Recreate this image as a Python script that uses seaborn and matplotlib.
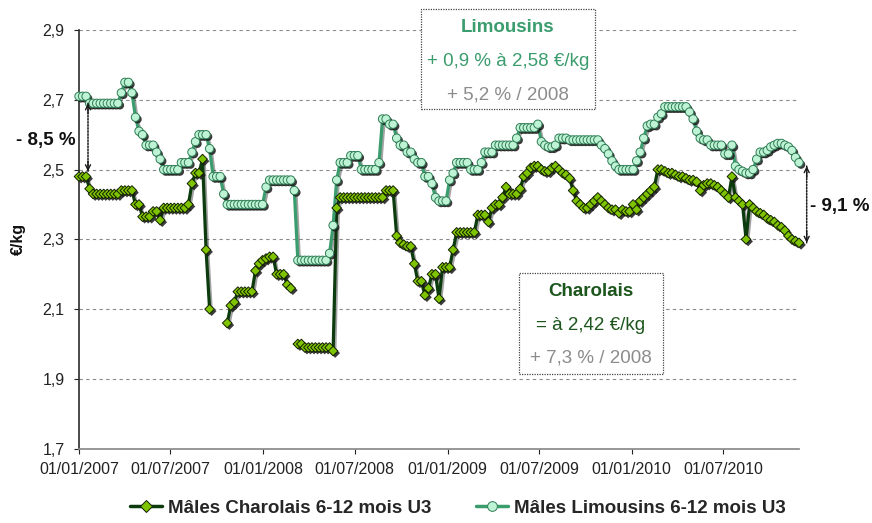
import numpy as np
import pandas as pd
import matplotlib
matplotlib.use('Agg')
import matplotlib.pyplot as plt
import matplotlib.patheffects as pe
from matplotlib.patches import Rectangle
from matplotlib.lines import Line2D
from matplotlib.ticker import FuncFormatter
import seaborn as sns

nan = np.nan

# cotations hebdomadaires (€/kg), à partir de la semaine du 01/01/2007
first_week = '2007-01-01'

charolais = [
    2.48, 2.48, 2.48, 2.445, 2.43, 2.43, 2.43, 2.43, 2.43, 2.43, 2.43, 2.43,
    2.44, 2.44, 2.44, 2.44, 2.40, 2.40, 2.365, 2.365, 2.365, 2.38, 2.38, 2.355,
    2.39, 2.39, 2.39, 2.39, 2.39, 2.39, 2.39, 2.40, 2.46, 2.49, 2.49, 2.53,
    2.27, 2.10, nan, nan, nan, nan, 2.06, 2.11, 2.12, 2.15, 2.15, 2.15,
    2.15, 2.15, 2.21, 2.23, 2.24, 2.245, 2.25, 2.25, 2.20, 2.20, 2.20, 2.17,
    2.16, nan, 2.00, 2.00, 1.99, 1.99, 1.99, 1.99, 1.99, 1.99, 1.99, 1.99,
    1.98, 2.39, 2.42, 2.42, 2.42, 2.42, 2.42, 2.42, 2.42, 2.42, 2.42, 2.42,
    2.42, 2.42, 2.42, 2.44, 2.44, 2.44, 2.31, 2.29, 2.285, 2.28, 2.28, 2.23,
    2.18, 2.18, 2.14, 2.16, 2.20, 2.20, 2.13, 2.22, 2.22, 2.22, 2.27, 2.32,
    2.32, 2.32, 2.32, 2.32, 2.32, 2.37, 2.37, 2.37, 2.35, 2.39, 2.40, 2.40,
    2.42, 2.45, 2.43, 2.43, 2.43, 2.445, 2.48, 2.49, 2.505, 2.51, 2.51, 2.50,
    2.495, 2.495, 2.505, 2.51, 2.50, 2.49, 2.485, 2.475, 2.44, 2.41, 2.40, 2.39,
    2.39, 2.40, 2.41, 2.42, 2.41, 2.40, 2.39, 2.385, 2.385, 2.375, 2.385, 2.38,
    2.38, 2.40, 2.385, 2.41, 2.42, 2.43, 2.44, 2.45, 2.50, 2.50, 2.495, 2.49,
    2.49, 2.485, 2.48, 2.48, 2.475, 2.47, 2.47, 2.465, 2.44, 2.455, 2.46, 2.46,
    2.455, 2.45, 2.44, 2.43, 2.42, 2.48, 2.42, 2.41, 2.40, 2.30, 2.40, 2.39,
    2.38, 2.375, 2.37, 2.36, 2.355, 2.35, 2.34, 2.335, 2.325, 2.31, 2.30, 2.295,
    2.29,
]

limousins = [
    2.71, 2.71, 2.71, 2.69, 2.69, 2.69, 2.69, 2.69, 2.69, 2.69, 2.69, 2.69,
    2.72, 2.75, 2.75, 2.72, 2.65, 2.61, 2.60, 2.57, 2.57, 2.57, 2.55, 2.53,
    2.50, 2.50, 2.50, 2.50, 2.50, 2.52, 2.52, 2.52, 2.55, 2.58, 2.60, 2.60,
    2.60, 2.56, 2.48, 2.48, 2.48, 2.43, 2.40, 2.40, 2.40, 2.40, 2.40, 2.40,
    2.40, 2.40, 2.40, 2.40, 2.40, 2.45, 2.47, 2.47, 2.47, 2.47, 2.47, 2.47,
    2.47, 2.44, 2.24, 2.24, 2.24, 2.24, 2.24, 2.24, 2.24, 2.24, 2.24, 2.26,
    2.34, 2.47, 2.52, 2.52, 2.52, 2.54, 2.54, 2.54, 2.50, 2.50, 2.50, 2.50,
    2.50, 2.52, 2.645, 2.645, 2.63, 2.63, 2.59, 2.57, 2.57, 2.55, 2.55, 2.53,
    2.52, 2.52, 2.48, 2.48, 2.46, 2.42, 2.41, 2.41, 2.41, 2.47, 2.49, 2.52,
    2.52, 2.52, 2.52, 2.50, 2.50, 2.50, 2.52, 2.55, 2.55, 2.55, 2.57, 2.57,
    2.57, 2.57, 2.57, 2.57, 2.59, 2.62, 2.62, 2.62, 2.62, 2.62, 2.63, 2.58,
    2.57, 2.565, 2.565, 2.57, 2.59, 2.59, 2.59, 2.585, 2.585, 2.585, 2.585, 2.585,
    2.585, 2.585, 2.585, 2.585, 2.57, 2.56, 2.545, 2.525, 2.51, 2.50, 2.50, 2.50,
    2.50, 2.50, 2.525, 2.55, 2.59, 2.625, 2.63, 2.63, 2.65, 2.66, 2.68, 2.68,
    2.68, 2.68, 2.68, 2.68, 2.68, 2.665, 2.645, 2.61, 2.59, 2.585, 2.585, 2.57,
    2.57, 2.57, 2.57, 2.545, 2.545, 2.57, 2.51, 2.50, 2.495, 2.49, 2.49, 2.50,
    2.53, 2.55, 2.55, 2.555, 2.565, 2.57, 2.575, 2.575, 2.57, 2.565, 2.555, 2.535,
    2.52,
]

series_labels = ['Mâles Charolais 6-12 mois U3', 'Mâles Limousins 6-12 mois U3']
x_ticks = ['2007-01-01', '2007-07-01', '2008-01-01', '2008-07-01',
           '2009-01-01', '2009-07-01', '2010-01-01', '2010-07-01']
y_ticks = [1.7, 1.9, 2.1, 2.3, 2.5, 2.7, 2.9]

# couleurs
c_char_line = '#0c3b0e'
c_char_mark = '#7fc400'
c_lim_line = '#3b9d6e'
c_lim_mark = '#bff3d5'
c_gris = '#8c8c8c'

sns.set_theme(style='white')
plt.rcParams['font.family'] = ['Liberation Sans', 'DejaVu Sans']

semaines = pd.date_range(first_week, periods=len(charolais), freq='7D')
df = pd.DataFrame({'date': semaines, 'charolais': charolais, 'limousins': limousins})
df['seg'] = df['charolais'].isna().cumsum()  # trous dans la série charolais

W, H = 872, 523
fig = plt.figure(figsize=(W / 100, H / 100), dpi=100)
ax = fig.add_axes([79 / W, 1 - 448.7 / H, 720 / W, 418.7 / H])

def px(x, y):
    return x / W, 1 - y / H

line_fx = [pe.SimpleLineShadow(offset=(1.2, -1.2), shadow_color='k', alpha=0.4), pe.Normal()]
mark_fx = [pe.SimplePatchShadow(offset=(1.5, -1.5), shadow_rgbFace='k', alpha=0.85), pe.Normal()]

sns.lineplot(data=df, x='date', y='charolais', units='seg', estimator=None,
             color=c_char_line, lw=2.3, ax=ax, path_effects=line_fx, clip_on=False)
sns.scatterplot(data=df, x='date', y='charolais', marker='D', s=24, color=c_char_mark,
                edgecolor='#122000', linewidth=0.7, ax=ax, zorder=3, clip_on=False)
sns.lineplot(data=df, x='date', y='limousins', color=c_lim_line, lw=2.3, ax=ax,
             path_effects=line_fx, clip_on=False)
sns.scatterplot(data=df, x='date', y='limousins', marker='o', s=36, color=c_lim_mark,
                edgecolor='#2f7d55', linewidth=0.7, ax=ax, zorder=3, clip_on=False)
for coll in ax.collections:
    coll.set_path_effects(mark_fx)

ax.set_xlim(semaines[0], semaines[-1])
ax.set_ylim(1.7, 2.9)
ax.set_yticks(y_ticks)
ax.yaxis.set_major_formatter(FuncFormatter(lambda v, p: f'{v:.1f}'.replace('.', ',')))
ax.set_xticks(pd.to_datetime(x_ticks))
ax.set_xticklabels(pd.to_datetime(x_ticks).strftime('%d/%m/%Y'))
ax.tick_params(axis='both', labelsize=11.5, colors='#222222', length=3.5, width=0.8,
               direction='out', left=True, bottom=True)
ax.tick_params(axis='y', pad=7)
ax.tick_params(axis='x', pad=6)
ax.grid(axis='y', color='#8a8a8a', linestyle=(0, (3, 3)), linewidth=0.8)
ax.set_axisbelow(True)
for s in ['top', 'right']:
    ax.spines[s].set_visible(False)
ax.spines['left'].set_color('#333333')
ax.spines['bottom'].set_color('#8a8a8a')
ax.set_xlabel('')
ax.set_ylabel('€/kg', fontsize=11.5, fontweight='bold', color='#111111')
ax.yaxis.set_label_coords(-0.074, 0.5)

# encadrés
def encadre(x0, y0, x1, y1, lignes):
    fx0, fy1 = px(x0, y1)
    fx1, fy0 = px(x1, y0)
    fig.add_artist(Rectangle((fx0, fy1), fx1 - fx0, fy0 - fy1, transform=fig.transFigure,
                             facecolor='white', edgecolor='#444444', lw=0.9,
                             linestyle=(0, (1, 1)), zorder=5))
    xc = (x0 + x1) / 2
    for y, txt, col, wt in lignes:
        fig.text(*px(xc, y), txt, ha='center', va='center', fontsize=13.5,
                 color=col, fontweight=wt, zorder=6)

encadre(421, 9, 595, 109, [
    (27, 'Limousins', c_lim_line, 'bold'),
    (61, '+ 0,9 % à 2,58 €/kg', c_lim_line, 'normal'),
    (95, '+ 5,2 % / 2008', c_gris, 'normal'),
])
encadre(519, 273, 663, 374, [
    (291, 'Charolais', '#1d561d', 'bold'),
    (326, '= à 2,42 €/kg', '#1d561d', 'normal'),
    (358, '+ 7,3 % / 2008', c_gris, 'normal'),
])

# écarts Charolais / Limousins
def ecart(xf, y_haut, y_bas, txt, tx, ty):
    ax.annotate('', xy=(xf, y_bas), xytext=(xf, y_haut), xycoords=('axes fraction', 'data'),
                textcoords=('axes fraction', 'data'), annotation_clip=False,
                arrowprops=dict(arrowstyle='-', color='k', lw=1.1, linestyle=(0, (1, 1)),
                                shrinkA=0, shrinkB=0))
    for a, b in [(y_haut, y_bas), (y_bas, y_haut)]:
        ax.annotate('', xy=(xf, a), xytext=(xf, a + (b - a) * 0.15),
                    xycoords=('axes fraction', 'data'), textcoords=('axes fraction', 'data'),
                    annotation_clip=False,
                    arrowprops=dict(arrowstyle='->', color='k', lw=1.0, mutation_scale=9,
                                    shrinkA=0, shrinkB=0))
    fig.text(*px(tx, ty), txt, ha='center', va='center', fontsize=13.5, fontweight='bold',
             color='#111111')

ecart(9 / 720, limousins[3], charolais[0] + 0.015, '- 8,5 %', 46, 140)
ecart(1.0107, limousins[-1] - 0.01, charolais[-1], '- 9,1 %', 840, 207)

handles = [
    Line2D([], [], color=c_char_line, lw=2.5, marker='D', ms=6, mfc=c_char_mark,
           mec='#122000', mew=0.7),
    Line2D([], [], color=c_lim_line, lw=2.5, marker='o', ms=7, mfc=c_lim_mark,
           mec='#2f7d55', mew=0.7),
]
fig.legend(handles, series_labels, loc='center', bbox_to_anchor=px(458, 508), ncol=2,
           frameon=False, handlelength=1.7, handletextpad=0.3, columnspacing=2.4,
           prop={'size': 13.5, 'weight': 'bold'})

fig.savefig('out.png', dpi=100, facecolor='white')
